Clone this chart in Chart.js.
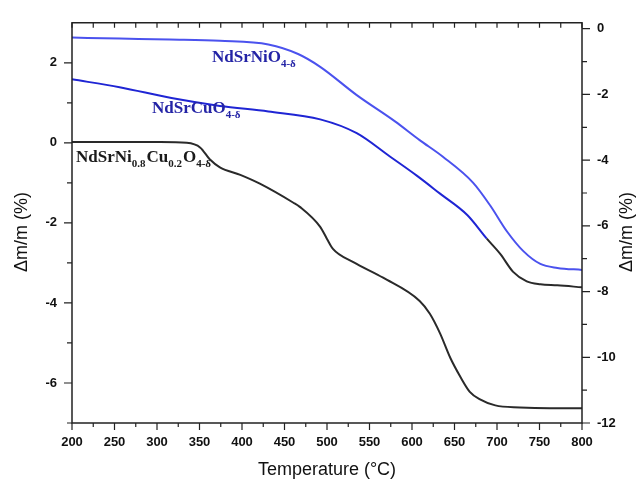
<!DOCTYPE html>
<html>
<head>
<meta charset="utf-8">
<script src="https://cdn.jsdelivr.net/npm/chart.js@4.4.1/dist/chart.umd.min.js"></script>
<style>
  html, body { margin: 0; padding: 0; background: #fff; }
</style>
</head>
<body>
<canvas id="tga" width="639" height="481"></canvas>
<script>
// NdSrNiO4-d, right axis
const tempNiO = [200, 256, 315, 374, 431, 466, 492, 535, 580, 609, 636, 672, 692, 712, 731, 751, 771, 800];
const massNiO = [-0.27, -0.30, -0.33, -0.37, -0.48, -0.77, -1.16, -2.02, -2.82, -3.39, -3.89, -4.69, -5.38, -6.18, -6.77, -7.16, -7.28, -7.34];

// NdSrCuO4-d, right axis (trace turns black above ~688 C)
const tempCuO = [200, 256, 317, 374, 431, 492, 535, 574, 606, 633, 665, 688, 704, 719, 735, 751, 771, 800];
const massCuO = [-1.54, -1.78, -2.11, -2.35, -2.52, -2.76, -3.18, -3.89, -4.48, -5.02, -5.67, -6.39, -6.86, -7.40, -7.69, -7.78, -7.81, -7.87];

// NdSrNi0.8Cu0.2O4-d, left axis
const tempMix = [200, 257, 304, 335, 351, 362, 374, 398, 421, 460, 468, 492, 500, 507, 531, 566, 609, 621, 633, 645, 657, 668, 680, 698, 727, 762, 800];
const massMix = [0.02, 0.02, 0.02, 0.0, -0.12, -0.41, -0.61, -0.80, -1.02, -1.49, -1.60, -2.10, -2.40, -2.65, -2.98, -3.37, -3.95, -4.27, -4.76, -5.37, -5.85, -6.22, -6.41, -6.56, -6.61, -6.63, -6.63];

const xTicks = [200, 250, 300, 350, 400, 450, 500, 550, 600, 650, 700, 750, 800];
const leftTicks = [-6, -4, -2, 0, 2];
const rightTicks = [-12, -10, -8, -6, -4, -2, 0];

const labelNiO = [['NdSrNiO', 0], ['4-\u03b4', 1]];
const labelCuO = [['NdSrCuO', 0], ['4-\u03b4', 1]];
const labelMix = [['NdSrNi', 0], ['0.8', 1], ['Cu', 0], ['0.2', 1], ['O', 0], ['4-\u03b4', 1]];

const pts = (xs, ys) => xs.map((x, i) => ({ x: x, y: ys[i] }));
const tickFont = { family: 'Arial, "Liberation Sans", sans-serif', size: 13, weight: 'bold' };
const INK = '#222';

function drawRich(ctx, parts, x, y, color) {
  ctx.fillStyle = color;
  ctx.textBaseline = 'alphabetic';
  ctx.textAlign = 'left';
  parts.forEach(([txt, sub]) => {
    ctx.font = sub ? 'bold 11px "Liberation Serif", "Times New Roman", serif'
                   : 'bold 17px "Liberation Serif", "Times New Roman", serif';
    ctx.fillText(txt, x, sub ? y + 5 : y);
    x += ctx.measureText(txt).width + (sub ? 1 : 0);
  });
}

const framePlugin = {
  id: 'frame',
  afterDraw(chart) {
    const { ctx, chartArea: a, scales } = chart;
    const x = scales.x, yl = scales.yl, yr = scales.yr;
    ctx.save();
    ctx.strokeStyle = INK;
    ctx.lineWidth = 1.5;
    ctx.beginPath();
    ctx.rect(a.left, a.top, a.right - a.left, a.bottom - a.top);
    ctx.stroke();

    ctx.lineWidth = 1.2;
    ctx.beginPath();
    // x ticks: majors out, minors in between
    xTicks.forEach((v, i) => {
      const px = x.getPixelForValue(v);
      ctx.moveTo(px, a.bottom); ctx.lineTo(px, a.bottom + 7);
      ctx.moveTo(px, a.top); ctx.lineTo(px, a.top + 5);
      if (i < xTicks.length - 1) {
        const mx = x.getPixelForValue((v + xTicks[i + 1]) / 2);
        ctx.moveTo(mx, a.bottom); ctx.lineTo(mx, a.bottom + 4);
        ctx.moveTo(mx, a.top); ctx.lineTo(mx, a.top + 5);
      }
    });
    leftTicks.forEach((v, i) => {
      const py = yl.getPixelForValue(v);
      ctx.moveTo(a.left, py); ctx.lineTo(a.left - 8, py);
      const m = yl.getPixelForValue(v - 1);
      ctx.moveTo(a.left, m); ctx.lineTo(a.left - 5, m);
    });
    rightTicks.forEach((v, i) => {
      const py = yr.getPixelForValue(v);
      ctx.moveTo(a.right, py); ctx.lineTo(a.right + 8, py);
      if (i > 0) {
        const m = yr.getPixelForValue(v - 1);
        ctx.moveTo(a.right, m); ctx.lineTo(a.right + 5, m);
      }
    });
    ctx.stroke();

    // axis titles
    ctx.fillStyle = '#111';
    ctx.font = '18px Arial, "Liberation Sans", sans-serif';
    ctx.textAlign = 'center';
    ctx.textBaseline = 'middle';
    ctx.fillText('Temperature (\u00b0C)', (a.left + a.right) / 2, 470);
    [22, 627].forEach(tx => {
      ctx.save();
      ctx.translate(tx, 232);
      ctx.rotate(-Math.PI / 2);
      ctx.fillText('\u0394m/m (%)', 0, 0);
      ctx.restore();
    });

    // curve labels
    drawRich(ctx, labelNiO, 212, 61.5, '#2424a6');
    drawRich(ctx, labelCuO, 152, 113, '#2424a6');
    drawRich(ctx, labelMix, 76, 161.5, '#1a1a1a');
    ctx.restore();
  }
};

new Chart(document.getElementById('tga'), {
  type: 'line',
  data: {
    datasets: [
      {
        data: pts(tempNiO, massNiO), yAxisID: 'yr',
        borderColor: '#4b52ee', borderWidth: 2, pointRadius: 0,
        cubicInterpolationMode: 'monotone'
      },
      {
        data: pts(tempCuO, massCuO), yAxisID: 'yr',
        borderColor: '#1f25d4', borderWidth: 2, pointRadius: 0,
        cubicInterpolationMode: 'monotone',
        segment: { borderColor: c => c.p0.parsed.x >= 688 ? '#2a2a2a' : '#1f25d4' }
      },
      {
        data: pts(tempMix, massMix), yAxisID: 'yl',
        borderColor: '#2a2a2a', borderWidth: 2, pointRadius: 0,
        cubicInterpolationMode: 'monotone'
      }
    ]
  },
  options: {
    responsive: false,
    animation: false,
    layout: { padding: { top: 13 } },
    plugins: { legend: { display: false }, tooltip: { enabled: false } },
    scales: {
      x: {
        type: 'linear', position: 'bottom', min: 200, max: 800,
        grid: { display: false, drawTicks: false }, border: { display: false },
        afterBuildTicks: s => { s.ticks = xTicks.map(v => ({ value: v })); },
        afterFit: s => { s.height = 58; },
        ticks: { font: tickFont, color: '#111', padding: 12, maxRotation: 0, autoSkip: false }
      },
      yl: {
        type: 'linear', position: 'left', min: -7, max: 3,
        grid: { display: false, drawTicks: false }, border: { display: false },
        afterBuildTicks: s => { s.ticks = leftTicks.map(v => ({ value: v })); },
        afterFit: s => { s.width = 72; },
        ticks: { font: tickFont, color: '#111', padding: 15, autoSkip: false }
      },
      yr: {
        type: 'linear', position: 'right', min: -12, max: 0.18,
        grid: { display: false, drawTicks: false }, border: { display: false },
        afterBuildTicks: s => { s.ticks = rightTicks.map(v => ({ value: v })); },
        afterFit: s => { s.width = 57; },
        ticks: { font: tickFont, color: '#111', padding: 15, autoSkip: false }
      }
    }
  },
  plugins: [framePlugin]
});
</script>
</body>
</html>
